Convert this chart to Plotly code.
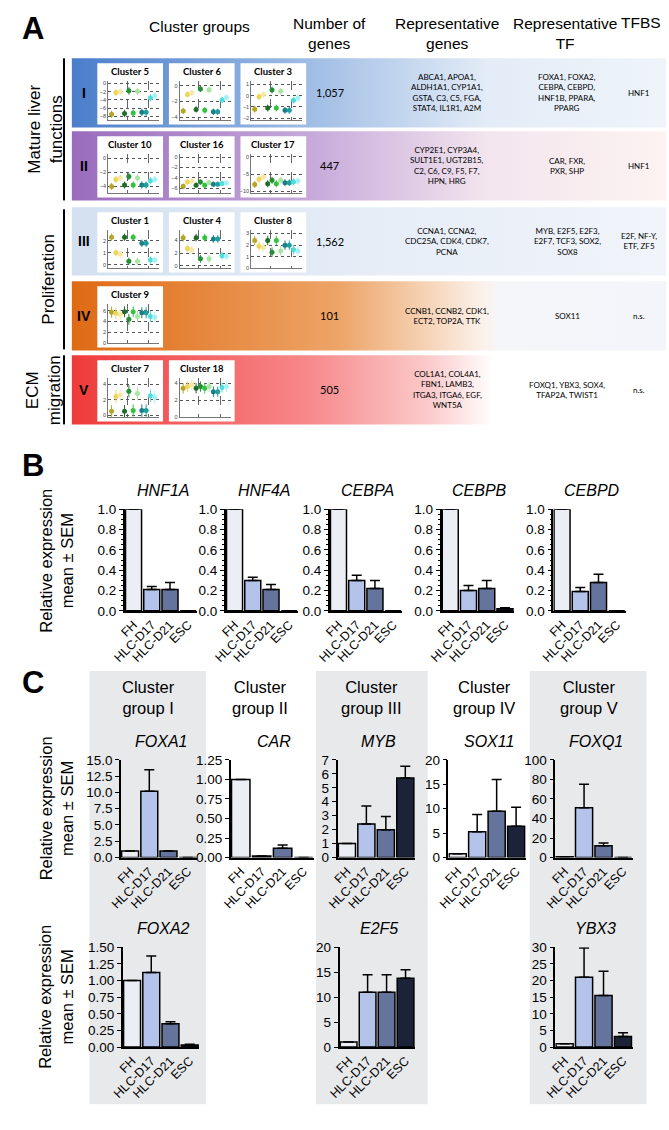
import plotly.graph_objects as go

W, H = 669, 1130
FONT = "Liberation Sans, Arial, sans-serif"
SMALL = "Lato, Open Sans, sans-serif"

# ---------------- panel A data ----------------
group_numerals = ["I", "II", "III", "IV", "V"]
gene_counts = ["1,057", "447", "1,562", "101", "505"]
rep_genes = [
    ["ABCA1, APOA1,", "ALDH1A1, CYP1A1,", "GSTA, C3, C5, FGA,", "STAT4, IL1R1, A2M"],
    ["CYP2E1, CYP3A4,", "SULT1E1, UGT2B15,", "C2, C6, C9, F5, F7,", "HPN, HRG"],
    ["CCNA1, CCNA2,", "CDC25A, CDK4, CDK7,", "PCNA"],
    ["CCNB1, CCNB2, CDK1,", "ECT2, TOP2A, TTK"],
    ["COL1A1, COL4A1,", "FBN1, LAMB3,", "ITGA3, ITGA6, EGF,", "WNT5A"],
]
rep_tf = [
    ["FOXA1, FOXA2,", "CEBPA, CEBPD,", "HNF1B, PPARA,", "PPARG"],
    ["CAR, FXR,", "PXR, SHP"],
    ["MYB, E2F5, E2F3,", "E2F7, TCF3, SOX2,", "SOX8"],
    ["SOX11"],
    ["FOXQ1, YBX3, SOX4,", "TFAP2A, TWIST1"],
]
tfbs = [["HNF1"], ["HNF1"], ["E2F, NF-Y,", "ETF, ZF5"], ["n.s."], ["n.s."]]
row_clusters = [["Cluster 5", "Cluster 6", "Cluster 3"],
                ["Cluster 10", "Cluster 16", "Cluster 17"],
                ["Cluster 1", "Cluster 4", "Cluster 8"],
                ["Cluster 9"],
                ["Cluster 7", "Cluster 18"]]

# mini cluster profiles (11 points each)
cluster_values = {
    "Cluster 5": [-7.5, -2.2, -2.0, -7.3, -1.8, -7.2, -1.9, -7.0, -7.0, -3.5, -3.0],
    "Cluster 6": [-3.2, -1.1, -0.9, -3.0, -0.4, -3.1, -0.5, -3.3, -3.3, -1.8, -1.5],
    "Cluster 3": [-1.2, -0.1, 0.1, -1.1, 0.5, -1.1, 0.4, -1.3, -1.3, -0.4, -0.2],
    "Cluster 10": [-4.0, -3.0, -2.8, -3.8, -2.6, -3.8, -2.8, -3.8, -3.8, -3.2, -3.0],
    "Cluster 16": [-5.6, -4.8, -4.6, -5.4, -4.8, -5.4, -4.9, -5.2, -5.2, -5.1, -5.0],
    "Cluster 17": [-8.0, -6.5, -5.8, -7.8, -6.8, -7.8, -6.8, -7.5, -7.5, -7.2, -7.0],
    "Cluster 1": [2.3, 1.0, 0.9, 2.3, 0.3, 2.3, 0.3, 1.8, 1.8, 0.4, 0.4],
    "Cluster 4": [4.4, 2.7, 2.5, 4.4, 1.1, 4.4, 1.1, 4.2, 4.2, 1.6, 1.5],
    "Cluster 8": [2.4, 1.9, 1.8, 2.4, 1.4, 2.4, 1.5, 2.0, 2.0, 1.6, 1.5],
    "Cluster 9": [5.7, 5.5, 5.3, 5.8, 4.4, 5.8, 4.9, 5.6, 5.6, 4.9, 4.8],
    "Cluster 7": [0.5, 2.4, 2.6, 0.5, 3.1, 0.6, 2.8, 0.6, 0.6, 2.5, 2.3],
    "Cluster 18": [3.4, 3.6, 3.8, 3.4, 3.6, 3.4, 3.6, 3.0, 3.0, 3.5, 3.6],
}
cluster_err = {
    "Cluster 5": 0.9, "Cluster 6": 0.4, "Cluster 3": 0.3, "Cluster 10": 0.5,
    "Cluster 16": 0.5, "Cluster 17": 1.0, "Cluster 1": 0.3, "Cluster 4": 0.6,
    "Cluster 8": 0.4, "Cluster 9": 1.0, "Cluster 7": 0.8, "Cluster 18": 0.6,
}
cluster_ticks = {
    "Cluster 5": [0, -2, -4, -6, -8], "Cluster 6": [0, -2, -4], "Cluster 3": [1, 0, -1, -2],
    "Cluster 10": [0, -2, -4], "Cluster 16": [0, -2, -4, -6], "Cluster 17": [0, -5, -10],
    "Cluster 1": [0, 1, 2], "Cluster 4": [0, 2, 4], "Cluster 8": [0, 1, 2, 3],
    "Cluster 9": [0, 2, 4, 6], "Cluster 7": [0, 2, 4], "Cluster 18": [0, 2, 4],
}
cluster_range = {
    "Cluster 5": [-9, 0.6], "Cluster 6": [-4.4, 0.6], "Cluster 3": [-2.2, 1.3],
    "Cluster 10": [-5, 0.6], "Cluster 16": [-7, 0.6], "Cluster 17": [-10.6, 0.8],
    "Cluster 1": [-0.3, 2.9], "Cluster 4": [-0.4, 5.6], "Cluster 8": [0, 3.3],
    "Cluster 9": [0, 7.2], "Cluster 7": [-0.3, 4.8], "Cluster 18": [0, 4.6],
}
mini_colors = ["#b5a628", "#efd45a", "#f6e8a0", "#1e6b2a", "#228f36", "#33c23f",
               "#a8e6a0", "#1b7f86", "#1f9ea0", "#4fdcdc", "#a5f1f1"]

# ---------------- panel B / C data ----------------
samples = ["FH", "HLC-D17", "HLC-D21", "ESC"]
bar_colors = ["#eceef5", "#b3c3ea", "#64749c", "#1c2339"]

b_genes = ["HNF1A", "HNF4A", "CEBPA", "CEBPB", "CEBPD"]
b_means = [[1.0, 0.21, 0.21, 0.0],
           [1.0, 0.30, 0.21, 0.0],
           [1.0, 0.30, 0.22, 0.0],
           [1.0, 0.20, 0.22, 0.02],
           [1.0, 0.19, 0.28, 0.0]]
b_sem = [[0, 0.03, 0.07, 0],
         [0, 0.03, 0.05, 0],
         [0, 0.05, 0.08, 0],
         [0, 0.05, 0.08, 0.01],
         [0, 0.04, 0.08, 0]]

c_groups = ["Cluster<br>group I", "Cluster<br>group II", "Cluster<br>group III",
            "Cluster<br>group IV", "Cluster<br>group V"]
c1_genes = ["FOXA1", "CAR", "MYB", "SOX11", "FOXQ1"]
c1_means = [[1.0, 10.2, 1.0, 0.0],
            [1.0, 0.02, 0.12, 0.0],
            [1.0, 2.4, 2.0, 5.7],
            [0.8, 5.3, 9.5, 6.4],
            [0.8, 51.0, 12.0, 0.0]]
c1_sem = [[0, 3.3, 0, 0],
          [0, 0, 0.04, 0],
          [0, 1.3, 0.95, 0.85],
          [0, 3.5, 6.5, 3.9],
          [0, 24.0, 3.0, 0]]
c1_ticks = [[0, 2.5, 5, 7.5, 10, 12.5, 15], [0, 0.25, 0.5, 0.75, 1.0, 1.25],
            [0, 1, 2, 3, 4, 5, 6, 7], [0, 5, 10, 15, 20], [0, 20, 40, 60, 80, 100]]
c1_fmt = [".1f", ".2f", "d", "d", "d"]

c2_genes = ["FOXA2", "E2F5", "YBX3"]
c2_means = [[1.0, 1.12, 0.35, 0.03],
            [1.0, 11.0, 11.0, 13.8],
            [1.0, 21.0, 15.5, 3.2]]
c2_sem = [[0, 0.25, 0.03, 0.01],
          [0, 3.5, 3.5, 1.7],
          [0, 8.8, 7.3, 1.1]]
c2_ticks = [[0, 0.25, 0.5, 0.75, 1.0, 1.25, 1.5], [0, 5, 10, 15, 20],
            [0, 5, 10, 15, 20, 25, 30]]
c2_fmt = [".2f", "d", "d"]

# ---------------- layout geometry (pixels) ----------------
row_top = [52, 126, 203, 278, 353]
row_bot = [122, 196, 272, 348, 423]
row_x0, row_x1 = 60, 666
row_gradients = [
    [[0, "#4a7ecb"], [0.4, "#a0bde5"], [0.7, "#e3ecf7"], [1, "#eff4fa"]],
    [[0, "#9a6cbd"], [0.4, "#c6a9da"], [0.7, "#f3e5ee"], [1, "#fdf3f1"]],
    [[0, "#d3e0f0"], [0.5, "#e6edf7"], [1, "#f1f4fa"]],
    [[0, "#df6a14"], [0.45, "#eda467"], [0.69, "#fbf1e9"], [0.72, "#f5f6fa"], [1, "#f3f5fa"]],
    [[0, "#ef3a3a"], [0.4, "#f7898b"], [0.6, "#fbcaca"], [0.71, "#ffffff"], [1, "#ffffff"]],
]
box_x = [86, 159, 232]
box_w = 67

b_cols = [(114, 188), (217, 291), (323, 397), (437, 511), (551, 625)]
b_top, b_bot = 509, 612
c1_cols = [(110, 188), (222, 307), (331, 410), (444, 523), (553, 632)]
c1_top, c1_bot = 763, 862
c2_cols = [(112, 190), (333, 410), (553, 632)]
c2_top, c2_bot = 953, 1054
grey_cols = [(78, 197), (309, 423), (527, 646)]
c_centers = [138, 252, 366, 480, 587]


def xdom(a, b):
    return [a / W, b / W]


def ydom(top, bot):
    return [1 - bot / H, 1 - top / H]


fig = go.Figure()
layout = {}
annotations = []
shapes = []

# canvas axis in pixel units
layout["xaxis"] = dict(range=[0, W], domain=[0, 1], visible=False, fixedrange=True)
layout["yaxis"] = dict(range=[H, 0], domain=[0, 1], visible=False, fixedrange=True)


def rect(x0, y0, x1, y1, color=None, gradient=None):
    tr = go.Scatter(x=[x0, x1, x1, x0, x0], y=[y0, y0, y1, y1, y0], mode="lines",
                    line=dict(width=0), fill="toself", fillcolor=color,
                    hoverinfo="skip", showlegend=False, xaxis="x", yaxis="y")
    if gradient:
        tr.update(fillgradient=dict(type="horizontal", colorscale=gradient))
    fig.add_trace(tr)


def text(x, y, s, size=13, **kw):
    annotations.append(dict(x=x, y=y, xref="x", yref="y", text=s, showarrow=False,
                            font=dict(family=kw.pop("family", FONT), size=size,
                                      color=kw.pop("color", "black")), **kw))


# panel letters
text(20, 22, "<b>A</b>", 31)
text(20, 465, "<b>B</b>", 31)
text(20, 685, "<b>C</b>", 31)

# panel A header
text(190, 20, "Cluster groups", 15.5)
text(323, 27, "Number of<br>genes", 15.5)
text(443, 27, "Representative<br>genes", 15.5)
text(563, 27, "Representative<br>TF", 15.5)
text(640, 16, "TFBS", 15.5)

# group labels at left
for (t, b, label, xc) in [(52, 196, "Mature liver<br>functions", 33),
                          (205, 347, "Proliferation", 36),
                          (353, 423, "ECM<br>migration", 31)]:
    shapes.append(dict(type="line", xref="x", yref="y", x0=52, x1=52, y0=t, y1=b,
                       line=dict(color="black", width=2)))
    text(xc, (t + b) / 2, label, 17, textangle=-90)

mini_idx = 0
for r in range(5):
    rect(row_x0, row_top[r], row_x1, row_bot[r], gradient=row_gradients[r])
    yc = (row_top[r] + row_bot[r]) / 2
    text(72, yc, "<b>%s</b>" % group_numerals[r], 14)
    text(323, yc, gene_counts[r], 11, family=SMALL)
    text(443, yc, "<br>".join(rep_genes[r]), 8, family=SMALL)
    text(565, yc, "<br>".join(rep_tf[r]), 8, family=SMALL)
    text(638, yc, "<br>".join(tfbs[r]), 8, family=SMALL)

    by, bh = row_top[r] + 5, row_bot[r] - row_top[r] - 8
    for k, name in enumerate(row_clusters[r]):
        bx = box_x[k]
        rect(bx, by, bx + box_w, by + bh, color="white")
        text(bx + box_w / 2, by + 8, "<b>%s</b>" % name, 9.5, family=SMALL)
        mini_idx += 1
        n = mini_idx + 1
        layout["xaxis%d" % n] = dict(domain=xdom(bx + 11, bx + box_w - 4), anchor="y%d" % n,
                                     range=[-0.8, 11], tickvals=[3.6, 8.6],
                                     showticklabels=False, showgrid=True, griddash="dash",
                                     gridcolor="#666", gridwidth=0.6, showline=True,
                                     linecolor="#777", linewidth=1, ticks="",
                                     zeroline=False, fixedrange=True)
        layout["yaxis%d" % n] = dict(domain=ydom(by + 18, by + bh - 4), anchor="x%d" % n,
                                     range=cluster_range[name], tickvals=cluster_ticks[name],
                                     tickfont=dict(size=5.5, family=FONT, color="#444"),
                                     showgrid=True, griddash="dot", gridcolor="#555",
                                     gridwidth=0.7, showline=True, linecolor="#777",
                                     linewidth=1, ticks="", zeroline=False, fixedrange=True)
        for i, v in enumerate(cluster_values[name]):
            fig.add_trace(go.Scatter(
                x=[i], y=[v], mode="markers", xaxis="x%d" % n, yaxis="y%d" % n,
                marker=dict(size=5, color=mini_colors[i]),
                error_y=dict(type="data", array=[cluster_err[name]], color=mini_colors[i],
                             thickness=1, width=0),
                showlegend=False, hoverinfo="y"))

# grey column backgrounds in panel C
for (a, b) in grey_cols:
    shapes.append(dict(type="rect", xref="x", yref="y", x0=a, x1=b, y0=673, y1=1112,
                       fillcolor="#e8e9eb", line=dict(width=0), layer="below"))

axis_n = mini_idx + 1


def bar_panel(gene, means, sems, cols, top, bot, ticks, fmt, minor=None):
    global axis_n
    axis_n += 1
    n = axis_n
    fig.add_trace(go.Bar(
        x=samples, y=means, xaxis="x%d" % n, yaxis="y%d" % n,
        marker=dict(color=bar_colors, line=dict(color="black", width=1.5)),
        error_y=dict(type="data", array=sems, arrayminus=[0] * len(sems), symmetric=False,
                     color="black", thickness=1.5, width=5),
        showlegend=False))
    layout["xaxis%d" % n] = dict(domain=xdom(*cols), anchor="y%d" % n, type="category",
                                  range=[-0.48, 3.5], tickangle=-45, showline=True,
                                  linecolor="black", linewidth=1.5, ticks="",
                                  tickfont=dict(size=12.5, family=FONT, color="black"),
                                  fixedrange=True)
    ya = dict(domain=ydom(top, bot), anchor="x%d" % n, range=[0, ticks[-1]],
              tickvals=ticks, tickformat=fmt, showline=True, linecolor="black",
              linewidth=1.5, ticks="outside", ticklen=4, tickwidth=1.2, tickcolor="black",
              showgrid=False, zeroline=False, fixedrange=True,
              tickfont=dict(size=13.5, family="Liberation Sans Narrow, Liberation Sans, Arial",
                            color="black"))
    if minor:
        ya["minor"] = dict(dtick=minor, ticks="outside", ticklen=2, tickcolor="black")
    layout["yaxis%d" % n] = ya
    text((cols[0] + cols[1]) / 2 + 2, top - 19, "<i>%s</i>" % gene, 16)


for g, m, s, c in zip(b_genes, b_means, b_sem, b_cols):
    bar_panel(g, m, s, c, b_top, b_bot, [0, 0.2, 0.4, 0.6, 0.8, 1.0], ".1f", minor=0.05)

for g, m, s, c, t, f in zip(c1_genes, c1_means, c1_sem, c1_cols, c1_ticks, c1_fmt):
    bar_panel(g, m, s, c, c1_top, c1_bot, t, f)

for g, m, s, c, t, f in zip(c2_genes, c2_means, c2_sem, c2_cols, c2_ticks, c2_fmt):
    bar_panel(g, m, s, c, c2_top, c2_bot, t, f)

for lab, xc in zip(c_groups, c_centers):
    text(xc, 700, lab, 16.5)

for yc in [561, 812, 1003]:
    text(44, yc, "Relative expression<br>mean ± SEM", 16.5, textangle=-90)

layout.update(
    width=W, height=H, margin=dict(l=0, r=0, t=0, b=0),
    paper_bgcolor="white", plot_bgcolor="rgba(0,0,0,0)",
    bargap=0.12, annotations=annotations, shapes=shapes,
    font=dict(family=FONT), showlegend=False,
)
fig.update_layout(**layout)
fig.write_html("out.html", config={"displayModeBar": False},
               post_script="document.body.style.margin='0';")
